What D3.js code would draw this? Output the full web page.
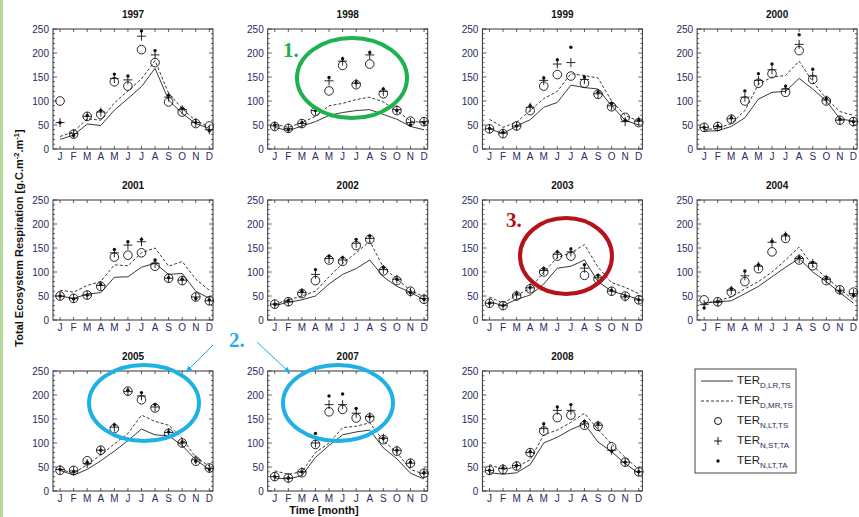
<!DOCTYPE html>
<meta charset="utf-8">
<style>
body { margin: 0; background: #fff; }
svg { font-family: "Liberation Sans", Arial, sans-serif; }
.frame { fill: none; stroke: #333; stroke-width: 1; }
.tick { stroke: #333; stroke-width: 0.8; }
.lbl { font-size: 10px; fill: #2a2a5e; }
.title { font-size: 10px; font-weight: bold; fill: #111; }
.sim { fill: none; stroke: #222; stroke-width: 0.9; }
</style>
<svg class="chart" width="859" height="517"></svg>
<script src="https://d3js.org/d3.v7.min.js"></script>
<script>

var years = ["1997", "1998", "1999", "2000", "2001", "2002", "2003", "2004", "2005", "2007", "2008"];
var months = ["J", "F", "M", "A", "M", "J", "J", "A", "S", "O", "N", "D"];
var yTicks = [0, 50, 100, 150, 200, 250];

// TER_D,LR,TS (solid line)
var terDLRTS = [
  [20, 29, 52, 49, 81, 105, 130, 168, 102, 74, 53, 43],
  [45, 38, 48, 57, 70, 76, 80, 82, 72, 62, 47, 40],
  [42, 32, 48, 61, 87, 97, 133, 128, 125, 90, 60, 50],
  [37, 38, 47, 65, 104, 118, 120, 147, 125, 100, 63, 58],
  [50, 45, 54, 57, 89, 90, 110, 118, 95, 97, 60, 45],
  [30, 37, 42, 50, 75, 95, 107, 125, 90, 70, 58, 42],
  [38, 30, 43, 52, 75, 108, 112, 125, 80, 60, 52, 43],
  [35, 38, 40, 55, 70, 90, 110, 128, 100, 80, 57, 35],
  [43, 33, 45, 63, 83, 105, 129, 117, 115, 95, 65, 45],
  [27, 25, 32, 70, 95, 117, 123, 127, 90, 67, 37, 25],
  [38, 35, 38, 55, 100, 112, 128, 140, 102, 82, 57, 37]
];
// TER_D,MR,TS (dashed line)
var terDMRTS = [
  [26, 36, 63, 60, 96, 121, 146, 184, 116, 84, 59, 46],
  [52, 45, 55, 68, 90, 95, 103, 108, 98, 80, 58, 55],
  [62, 45, 56, 80, 105, 120, 157, 153, 148, 100, 70, 58],
  [40, 43, 53, 80, 135, 150, 153, 183, 140, 105, 78, 70],
  [62, 58, 72, 80, 115, 113, 140, 150, 112, 122, 85, 62],
  [33, 42, 50, 60, 90, 118, 140, 164, 110, 85, 62, 48],
  [48, 35, 52, 65, 100, 130, 140, 157, 110, 78, 68, 55],
  [35, 40, 48, 65, 80, 100, 125, 152, 113, 88, 65, 42],
  [45, 37, 55, 75, 98, 120, 158, 145, 137, 110, 70, 52],
  [42, 35, 40, 80, 100, 132, 135, 142, 105, 80, 45, 35],
  [55, 45, 50, 65, 117, 127, 143, 162, 128, 98, 70, 45]
];
// TER_N,LT,TS (circles)
var terNLTTS = [
  [100, 31, 68, 72, 140, 131, 207, 180, 98, 77, 53, 48],
  [47, 43, 53, 78, 121, 174, 134, 177, 115, 80, 58, 57],
  [42, 32, 48, 80, 131, 155, 152, 137, 114, 88, 66, 55],
  [45, 47, 62, 100, 137, 157, 118, 205, 145, 100, 60, 57],
  [50, 45, 52, 70, 131, 135, 140, 112, 87, 82, 48, 40],
  [33, 38, 55, 82, 125, 122, 155, 168, 102, 82, 60, 43],
  [35, 30, 50, 65, 100, 133, 133, 93, 85, 60, 50, 42],
  [42, 38, 58, 80, 107, 142, 170, 125, 113, 82, 63, 58],
  [43, 43, 63, 85, 130, 208, 190, 173, 120, 100, 62, 48],
  [30, 27, 38, 97, 165, 170, 152, 152, 107, 83, 58, 37],
  [43, 45, 52, 80, 125, 153, 158, 137, 135, 92, 60, 40]
];
// TER_N,ST,TA (plus)
var terNSTTA = [
  [55, 32, 68, 77, 147, 144, 235, 196, 108, 82, 55, 40],
  [48, 43, 53, 80, 142, 183, 137, 196, 120, 82, 55, 57],
  [42, 33, 48, 87, 143, 177, 180, 145, 115, 90, 57, 58],
  [45, 47, 63, 108, 143, 165, 125, 218, 152, 102, 60, 57],
  [50, 45, 52, 72, 140, 156, 163, 118, 87, 83, 48, 40],
  [33, 38, 57, 95, 128, 125, 160, 170, 105, 85, 58, 45],
  [35, 30, 52, 67, 103, 137, 142, 108, 88, 60, 48, 42],
  [32, 37, 62, 92, 112, 162, 175, 128, 118, 85, 62, 55],
  [45, 42, 57, 85, 133, 207, 198, 175, 122, 100, 65, 47],
  [30, 27, 40, 100, 180, 180, 162, 155, 110, 85, 58, 37],
  [43, 47, 53, 80, 130, 168, 168, 140, 137, 85, 60, 40]
];
// TER_N,LT,TA (dots)
var terNLTTA = [
  [55, 28, 70, 80, 156, 152, 246, 205, 112, 85, 55, 38],
  [50, 40, 55, 80, 149, 188, 138, 201, 125, 80, 50, 55],
  [43, 35, 48, 90, 148, 186, 212, 150, 118, 95, 60, 60],
  [45, 48, 65, 121, 157, 177, 131, 238, 166, 105, 62, 57],
  [50, 44, 52, 74, 147, 163, 168, 125, 88, 85, 45, 42],
  [33, 40, 60, 105, 133, 130, 168, 175, 110, 85, 57, 43],
  [35, 30, 55, 68, 107, 142, 148, 115, 93, 62, 50, 42],
  [25, 38, 65, 102, 115, 164, 178, 130, 120, 87, 60, 52],
  [45, 40, 60, 85, 138, 210, 205, 180, 123, 102, 62, 45],
  [30, 27, 40, 120, 198, 202, 172, 155, 110, 85, 60, 38],
  [43, 48, 53, 82, 140, 175, 180, 145, 140, 83, 60, 40]
];

var svg = d3.select(".chart");

// light green slide edge
svg.append("rect").attr("x", 0).attr("y", 0).attr("width", 3).attr("height", 517).attr("fill", "#b3d89a");

var pw = 160, ph = 120;
var x = d3.scaleLinear().domain([0.48, 12.27]).range([0, pw]);
var y = d3.scaleLinear().domain([0, 250]).range([ph, 0]);
var monthIdx = d3.range(1, 13);

var solid = d3.line().x(function(d, i) { return x(i + 1); }).y(function(d) { return y(d); });

years.forEach(function(yr, k) {
  var col = k % 4, row = Math.floor(k / 4);
  var g = svg.append("g")
    .attr("transform", "translate(" + (53 + col * 214.7) + "," + (29 + row * 171) + ")");

  g.append("text").attr("class", "title")
    .attr("x", pw / 2).attr("y", -11).attr("text-anchor", "middle").text(yr);

  // ticks
  var minor = d3.range(0, 251, 10);
  minor.forEach(function(v) {
    var len = v % 50 === 0 ? 4 : 2;
    g.append("line").attr("class", "tick").attr("x1", 0).attr("x2", len).attr("y1", y(v)).attr("y2", y(v));
    g.append("line").attr("class", "tick").attr("x1", pw).attr("x2", pw - len).attr("y1", y(v)).attr("y2", y(v));
  });
  monthIdx.forEach(function(m) {
    g.append("line").attr("class", "tick").attr("x1", x(m)).attr("x2", x(m)).attr("y1", 0).attr("y2", 3);
    g.append("line").attr("class", "tick").attr("x1", x(m)).attr("x2", x(m)).attr("y1", ph).attr("y2", ph - 3);
  });

  g.selectAll(".ylab").data(yTicks).enter().append("text")
    .attr("class", "lbl ylab").attr("x", -4).attr("y", function(d) { return y(d); })
    .attr("dy", "0.35em").attr("text-anchor", "end").text(function(d) { return d; });

  g.selectAll(".xlab").data(months).enter().append("text")
    .attr("class", "lbl xlab").attr("x", function(d, i) { return x(i + 1); })
    .attr("y", ph + 11).attr("text-anchor", "middle").text(function(d) { return d; });

  g.append("path").attr("class", "sim").attr("d", solid(terDLRTS[k]));
  g.append("path").attr("class", "sim").attr("stroke-dasharray", "3,2").attr("d", solid(terDMRTS[k]));

  g.selectAll(".circ").data(terNLTTS[k]).enter().append("circle")
    .attr("cx", function(d, i) { return x(i + 1); }).attr("cy", function(d) { return y(d); })
    .attr("r", 4.3).attr("fill", "none").attr("stroke", "#111").attr("stroke-width", 0.9);

  g.selectAll(".plus").data(terNSTTA[k]).enter().append("path")
    .attr("d", function(d, i) {
      var cx = x(i + 1), cy = y(d);
      return "M" + (cx - 4.5) + "," + cy + "H" + (cx + 4.5) + "M" + cx + "," + (cy - 4.5) + "V" + (cy + 4.5);
    })
    .attr("stroke", "#111").attr("stroke-width", 0.9);

  g.selectAll(".dot").data(terNLTTA[k]).enter().append("circle")
    .attr("cx", function(d, i) { return x(i + 1); }).attr("cy", function(d) { return y(d); })
    .attr("r", 1.7).attr("fill", "#111");

  g.append("rect").attr("class", "frame").attr("width", pw).attr("height", ph);
});

// axis titles
var yl = svg.append("text").attr("transform", "translate(23,238) rotate(-90)")
  .attr("text-anchor", "middle").attr("font-size", 11).attr("font-weight", "bold").attr("fill", "#111");
yl.append("tspan").text("Total Ecosystem Respiration [g.C.m");
yl.append("tspan").attr("font-size", 7.5).attr("dy", -4).text("-2");
yl.append("tspan").attr("dy", 4).text(".m");
yl.append("tspan").attr("font-size", 7.5).attr("dy", -4).text("-1");
yl.append("tspan").attr("dy", 4).text("]");

svg.append("text").attr("x", 324).attr("y", 514).attr("text-anchor", "middle")
  .attr("font-size", 11).attr("font-weight", "bold").attr("fill", "#111").text("Time [month]");

// legend
var lg = svg.append("g").attr("transform", "translate(695,369)");
lg.append("rect").attr("width", 101).attr("height", 104).attr("fill", "#fff").attr("stroke", "#444");
var legendNames = [["D,LR,TS"], ["D,MR,TS"], ["N,LT,TS"], ["N,ST,TA"], ["N,LT,TA"]];
legendNames.forEach(function(n, i) {
  var ly = 12 + i * 20;
  if (i === 0) lg.append("line").attr("x1", 6).attr("x2", 38).attr("y1", ly).attr("y2", ly).attr("class", "sim");
  if (i === 1) lg.append("line").attr("x1", 6).attr("x2", 38).attr("y1", ly).attr("y2", ly).attr("class", "sim").attr("stroke-dasharray", "3,2");
  if (i === 2) lg.append("circle").attr("cx", 23).attr("cy", ly).attr("r", 3.5).attr("fill", "none").attr("stroke", "#111");
  if (i === 3) lg.append("path").attr("d", "M19," + ly + "H27M23," + (ly - 4) + "V" + (ly + 4)).attr("stroke", "#111");
  if (i === 4) lg.append("circle").attr("cx", 23).attr("cy", ly).attr("r", 1.7).attr("fill", "#111");
  var t = lg.append("text").attr("x", 42).attr("y", ly + 3).attr("font-size", 11.5).attr("fill", "#222");
  t.append("tspan").text("TER");
  t.append("tspan").attr("font-size", 8).attr("dy", 4).attr("fill", "#2a2a5e").text(n[0]);
});

// annotations
function ell(cx, cy, rx, ry, c) {
  svg.append("ellipse").attr("cx", cx).attr("cy", cy).attr("rx", rx).attr("ry", ry)
    .attr("fill", "none").attr("stroke", c).attr("stroke-width", 4);
}
function note(tx, ty, s, c) {
  svg.append("text").attr("x", tx).attr("y", ty).attr("font-family", "Liberation Serif, Times New Roman, serif")
    .attr("font-size", 21).attr("font-weight", "bold").attr("fill", c).text(s);
}
ell(352, 78, 55, 40, "#1db24b");
note(283, 57, "1.", "#1db24b");
ell(566, 256, 46, 38, "#b5121b");
note(506, 227, "3.", "#b5121b");
ell(144, 403, 55, 38, "#1fb0e6");
ell(338, 403, 55, 38, "#1fb0e6");
note(229, 347, "2.", "#1fb0e6");

var defs = svg.append("defs");
defs.append("marker").attr("id", "arr").attr("viewBox", "0 0 10 10").attr("refX", 9).attr("refY", 5)
  .attr("markerWidth", 7).attr("markerHeight", 7).attr("orient", "auto")
  .append("path").attr("d", "M0,1L10,5L0,9z").attr("fill", "#1fb0e6");
svg.append("line").attr("x1", 213).attr("y1", 345).attr("x2", 186).attr("y2", 372)
  .attr("stroke", "#1fb0e6").attr("stroke-width", 1).attr("marker-end", "url(#arr)");
svg.append("line").attr("x1", 257).attr("y1", 342).attr("x2", 290).attr("y2", 373)
  .attr("stroke", "#1fb0e6").attr("stroke-width", 1).attr("marker-end", "url(#arr)");

</script>
